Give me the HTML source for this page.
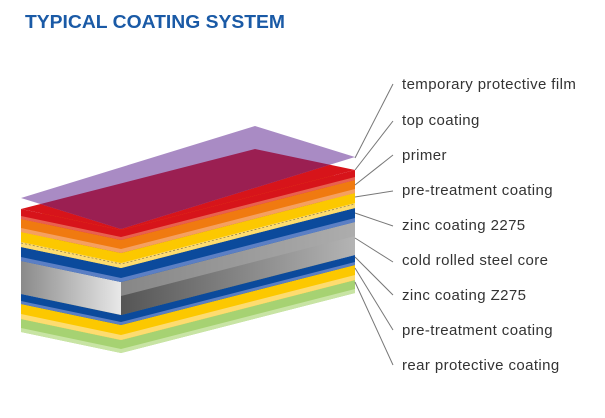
<!DOCTYPE html>
<html><head><meta charset="utf-8"><style>
body{margin:0;background:#fff;width:605px;height:418px;overflow:hidden}
svg{display:block}
</style></head><body>
<svg width="605" height="418" viewBox="0 0 605 418" xmlns="http://www.w3.org/2000/svg">
<defs>
<linearGradient id="gtop" x1="0" y1="0" x2="1" y2="0"><stop offset="0" stop-color="#9a9a9a"/><stop offset="1" stop-color="#d8d8d8"/></linearGradient>
<linearGradient id="gleft" x1="0" y1="0" x2="1" y2="0"><stop offset="0" stop-color="#8a8a8a"/><stop offset="1" stop-color="#e8e8e8"/></linearGradient>
<linearGradient id="gfront" x1="0" y1="0" x2="1" y2="0"><stop offset="0" stop-color="#555"/><stop offset="1" stop-color="#b4b4b4"/></linearGradient>
<clipPath id="pc"><polygon points="21,198 255,126 355,157 121,229"/></clipPath>
</defs>
<text x="25" y="28" font-family="Liberation Sans, sans-serif" font-weight="bold" font-size="18" fill="#1a5aa6" textLength="260" lengthAdjust="spacingAndGlyphs">TYPICAL COATING SYSTEM</text>

<!-- green -->
<polygon points="21,319 121,340 355,280 355,293 121,353 21,332" fill="#a6d272"/>
<polygon points="21,328 121,349 355,289 355,293 121,353 21,332" fill="#c8e4a4"/>
<polygon points="21,319 255,259 355,280 121,340" fill="#a3d070"/>
<!-- yellow -->
<polygon points="21,304 121,325 355,265 355,280 121,340 21,319" fill="#fcc800"/>
<polygon points="21,314 121,335 355,275 355,280 121,340 21,319" fill="#fddc70"/>
<polygon points="21,304 255,244 355,265 121,325" fill="#fcc800"/>
<!-- blue -->
<polygon points="21,294 121,315 355,255 355,265 121,325 21,304" fill="#0b4a9c"/>
<polygon points="21,301 121,322 355,262 355,265 121,325 21,304" fill="#5b7fc4"/>
<polygon points="21,294 255,234 355,255 121,315" fill="#0b4a9c"/>
<!-- grey core -->
<polygon points="21,261 121,282 121,315 21,294" fill="url(#gleft)"/>
<polygon points="121,282 355,222 355,255 121,315" fill="url(#gfront)"/>
<polygon points="121,282 355,222 355,236 121,296" fill="#a8a8a8" opacity="0.6"/>
<polygon points="21,261 255,201 355,222 121,282" fill="url(#gtop)"/>
<!-- blue -->
<polygon points="21,247 121,268 355,208 355,222 121,282 21,261" fill="#0b4a9c"/>
<polygon points="21,257 121,278 355,218 355,222 121,282 21,261" fill="#5b7fc4"/>
<polygon points="21,247 255,187 355,208 121,268" fill="#0b4a9c"/>
<!-- yellow -->
<polygon points="21,232 121,253 355,193 355,208 121,268 21,247" fill="#fcc800"/>
<polygon points="21,242 121,263 355,203 355,208 121,268 21,247" fill="#fddc70"/>
<polygon points="21,232 255,172 355,193 121,253" fill="#fcc800"/>
<polyline points="21,243 121,264 355,204" fill="none" stroke="#8a7a50" stroke-width="0.7" stroke-dasharray="2,2"/>
<!-- orange -->
<polygon points="21,219 121,240 355,180 355,193 121,253 21,232" fill="#f07a10"/>
<polygon points="21,228 121,249 355,189 355,193 121,253 21,232" fill="#f5a060"/>
<polygon points="21,219 255,159 355,180 121,240" fill="#f07a10"/>
<!-- red -->
<polygon points="21,209 121,230 355,170 355,180 121,240 21,219" fill="#d7141a"/>
<polygon points="21,216 121,237 355,177 355,180 121,240 21,219" fill="#e86050"/>
<polygon points="21,209 255,149 355,170 121,230" fill="#d7141a"/>
<!-- purple film -->
<polygon points="21,198 255,126 355,157 121,229" fill="#a98bc4"/>
<polygon points="21,209 255,149 355,170 121,230" fill="#9b1f52" clip-path="url(#pc)"/>

<g stroke="#777" stroke-width="1" fill="none">
<line x1="393" y1="84" x2="355" y2="158"/>
<line x1="393" y1="121" x2="355" y2="170"/>
<line x1="393" y1="155" x2="355" y2="185"/>
<line x1="393" y1="191" x2="355" y2="197"/>
<line x1="393" y1="226" x2="355" y2="213"/>
<line x1="393" y1="262" x2="355" y2="238"/>
<line x1="393" y1="295" x2="355" y2="257"/>
<line x1="393" y1="330" x2="355" y2="268"/>
<line x1="393" y1="365" x2="355" y2="282"/>
</g>
<g font-family="Liberation Sans, sans-serif" font-size="15" fill="#333" letter-spacing="0.4">
<text x="402" y="89">temporary protective film</text>
<text x="402" y="125">top coating</text>
<text x="402" y="160">primer</text>
<text x="402" y="195">pre-treatment coating</text>
<text x="402" y="230">zinc coating 2275</text>
<text x="402" y="265">cold rolled steel core</text>
<text x="402" y="300">zinc coating Z275</text>
<text x="402" y="335">pre-treatment coating</text>
<text x="402" y="370">rear protective coating</text>
</g>
</svg>
</body></html>
